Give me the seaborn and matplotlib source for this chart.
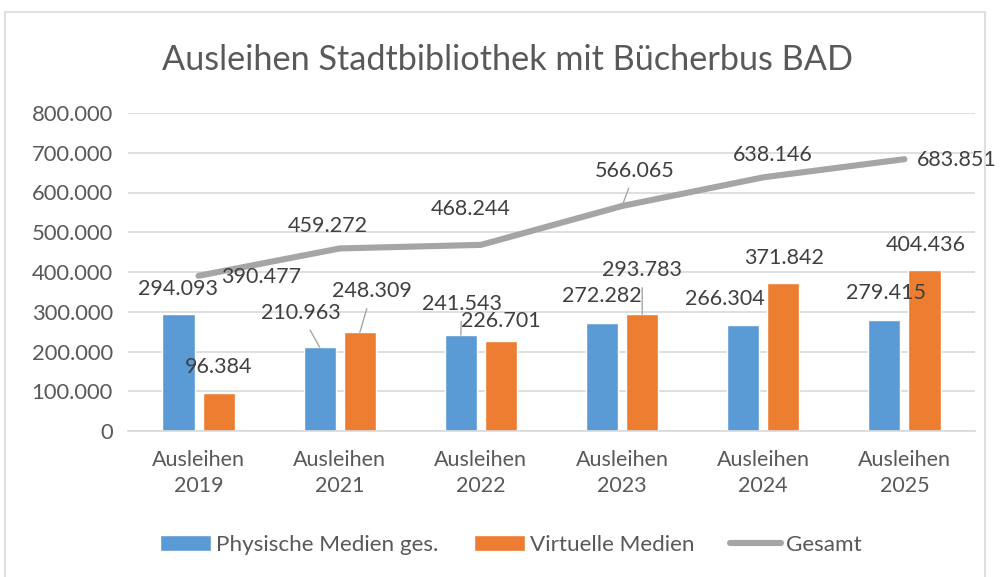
import numpy as np
import pandas as pd
import matplotlib
matplotlib.use("Agg")
import matplotlib.pyplot as plt
from matplotlib.patches import Rectangle
import seaborn as sns

# ---- data ----
categories = ["Ausleihen\n2019", "Ausleihen\n2021", "Ausleihen\n2022",
              "Ausleihen\n2023", "Ausleihen\n2024", "Ausleihen\n2025"]
physisch = [294093, 210963, 241543, 272282, 266304, 279415]
virtuell = [96384, 248309, 226701, 293783, 371842, 404436]
gesamt = [390477, 459272, 468244, 566065, 638146, 683851]
series_names = ["Physische Medien ges.", "Virtuelle Medien", "Gesamt"]
yticks = [0, 100000, 200000, 300000, 400000, 500000, 600000, 700000, 800000]
title = "Ausleihen Stadtbibliothek mit Bücherbus BAD"

# label offsets (pixels, dx, dy) relative to the mark top, and leader flags
off_phys = [(0, 25), (-19, 34), (1, 31), (0, 27), (-18, 26), (2, 27)]
off_virt = [(0, 26), (12, 41), (0, 20), (0, 44), (1, 25), (1, 25)]
off_ges = [(63, -1), (-12, 22), (-10, 36), (13, 35), (10, 22), (52, -1)]
lead_phys = [False, True, True, False, False, False]
lead_virt = [False, True, False, True, False, False]
lead_ges = [False, False, False, True, False, False]

C_BLUE = "#5B9BD5"
C_ORANGE = "#ED7D31"
C_GRAY = "#A5A5A5"
TXT = "#595959"
LBL = "#404040"

sns.set_theme(style="white")
plt.rcParams["font.family"] = ["Lato", "DejaVu Sans"]

fig = plt.figure(figsize=(10, 5.77), dpi=100)
ax = fig.add_axes([0.128, 1 - 431 / 577, 0.847, (431 - 113) / 577])

df = pd.DataFrame({
    "cat": categories * 2,
    "val": physisch + virtuell,
    "series": [series_names[0]] * len(categories) + [series_names[1]] * len(categories),
})
sns.barplot(data=df, x="cat", y="val", hue="series", order=categories,
            hue_order=series_names[:2], palette=[C_BLUE, C_ORANGE],
            width=0.57, gap=0.2, saturation=1, ax=ax, legend=True)
xs = np.arange(len(categories))
sns.lineplot(x=xs, y=gesamt, color=C_GRAY, lw=4.4, ax=ax, label=series_names[2],
             solid_capstyle="round")

ax.set_xlim(-0.5, len(categories) - 0.5)
ax.set_ylim(0, 800000)
ax.set_yticks(yticks)
ax.set_yticklabels([f"{v:,.0f}".replace(",", ".") for v in yticks])
ax.set_xlabel("")
ax.set_ylabel("")
ax.grid(axis="y", color="#D9D9D9", lw=1.2)
ax.set_axisbelow(True)
for s in ["top", "right", "left"]:
    ax.spines[s].set_visible(False)
ax.spines["bottom"].set_color("#D9D9D9")
ax.spines["bottom"].set_linewidth(1.2)
ax.tick_params(axis="y", length=0, pad=11, labelsize=15.8, labelcolor=TXT)
ax.tick_params(axis="x", length=0, pad=14, labelsize=15.5, labelcolor=TXT)
for t in ax.get_xticklabels():
    t.set_linespacing(1.35)

fmt = lambda v: f"{v:,.0f}".replace(",", ".")

def put(x, y, v, off, lead):
    kw = {}
    if lead:
        kw["arrowprops"] = dict(arrowstyle="-", color="#A6A6A6", lw=1.0,
                                shrinkA=3, shrinkB=0)
    ax.annotate(fmt(v), xy=(x, y), xytext=(off[0], off[1]),
                textcoords="offset pixels", ha="center", va="center",
                fontsize=15.5, color=LBL, **kw)

bars = [p for p in ax.patches if p.get_height() > 0]
phys_bars = sorted(bars, key=lambda p: p.get_x())[0::2]
virt_bars = sorted(bars, key=lambda p: p.get_x())[1::2]
for p, v, o, l in zip(phys_bars, physisch, off_phys, lead_phys):
    put(p.get_x() + p.get_width() / 2, p.get_height(), v, o, l)
for p, v, o, l in zip(virt_bars, virtuell, off_virt, lead_virt):
    put(p.get_x() + p.get_width() / 2, p.get_height(), v, o, l)
for x, v, o, l in zip(xs, gesamt, off_ges, lead_ges):
    put(x, v, v, o, l)

handles, labels = ax.get_legend_handles_labels()
ax.get_legend().remove()
order = [labels.index(n) for n in series_names]
handles = [handles[i] for i in order]
fig.legend(handles, series_names, loc="center", bbox_to_anchor=(0.511, 1 - 545 / 577),
           ncol=3, frameon=False, fontsize=16.2, labelcolor=TXT,
           handlelength=2.27, handleheight=0.7, handletextpad=0.2,
           columnspacing=1.6)

fig.text(0.508, 1 - 60 / 577, title, ha="center", va="center",
         fontsize=24.7, color=TXT)

fig.patches.append(Rectangle((0.005, -0.05), 0.98, 1 - 12 / 577 + 0.05,
                             transform=fig.transFigure, fill=False,
                             edgecolor="#D9D9D9", lw=1.2, zorder=0))

fig.savefig("out.png", dpi=100, facecolor="white")
